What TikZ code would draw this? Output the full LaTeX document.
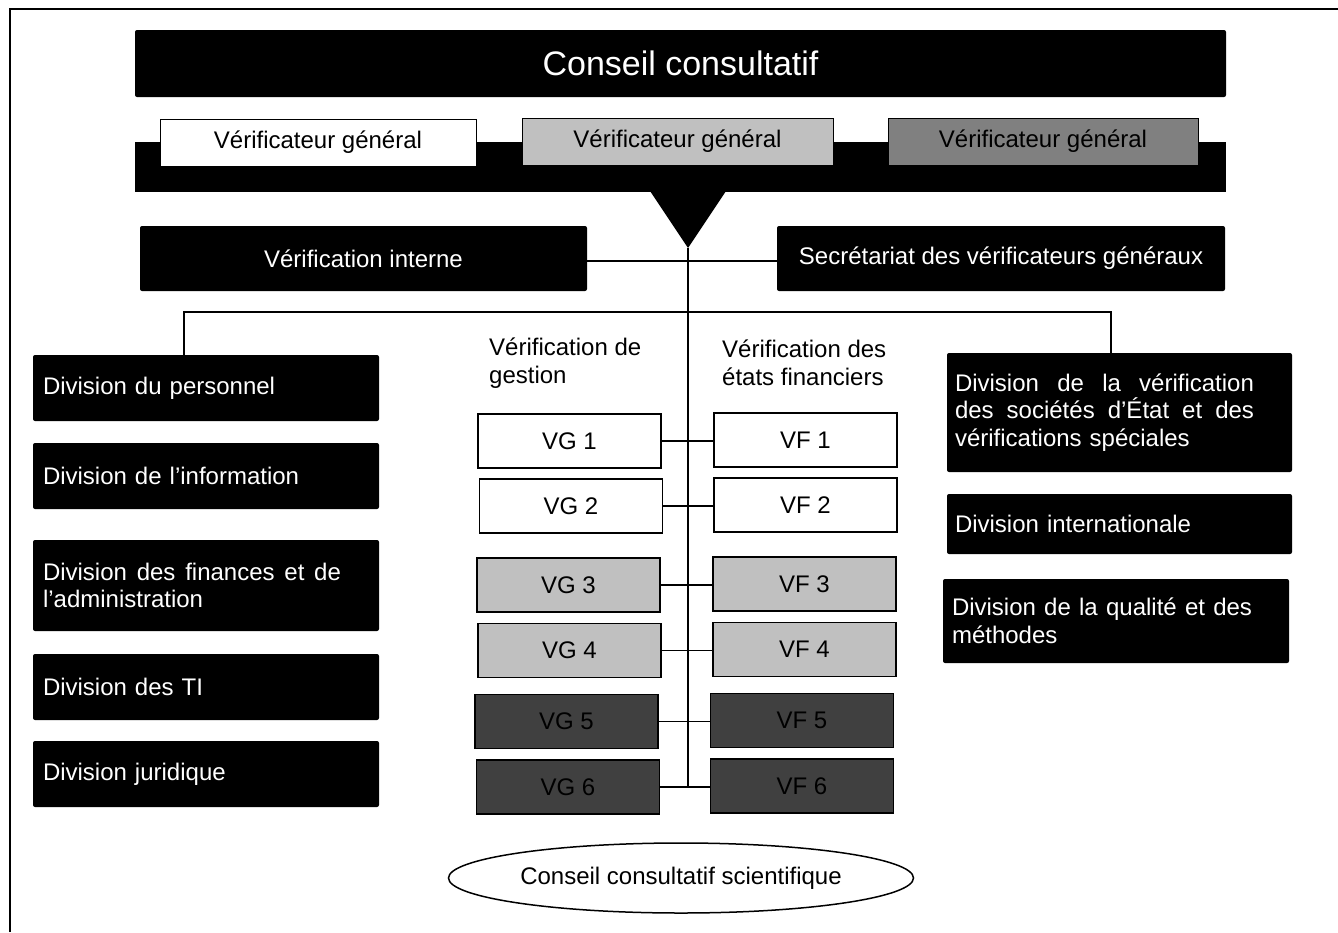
\documentclass[tikz,border=0pt]{standalone}
\usepackage{fontspec}
\setmainfont{Liberation Sans}
\usetikzlibrary{shapes.geometric}
\definecolor{lgray}{HTML}{C0C0C0}
\definecolor{mgray}{HTML}{808080}
\definecolor{dgray}{HTML}{404040}
\newcommand{\jline}[2]{\leavevmode\hbox to #1{#2}}
\begin{document}
\begin{tikzpicture}[x=1pt,y=-1pt,
 txt/.style={font=\fontsize{24}{27.5}\selectfont},
 blk/.style={txt, fill=black, text=white, rounded corners=2pt, inner sep=0pt, anchor=center},
 lblk/.style={blk, align=left},
 topvg/.style={txt, draw=black, line width=1pt, inner sep=0pt, minimum height=47pt},
 vbox/.style={txt, draw=black, line width=1.8pt, inner sep=0pt, minimum width=183pt, minimum height=54pt},
 conn/.style={line width=1.8pt},
]
\useasboundingbox (0,0) rectangle (1338,932);
\draw[line width=2.3pt] (10,932) -- (10,9) -- (1338,9);

% top
\node[blk, minimum width=1091pt, minimum height=67pt, font=\fontsize{34}{40}\selectfont] (cc) at (680.5,63.5) {Conseil consultatif};
\node[blk, rounded corners=0pt, minimum width=1091pt, minimum height=50pt] (band) at (680.5,167) {};
\fill (650,191) -- (726,191) -- (688,248) -- cycle;
\coordinate (tip) at (688,248);
\node[topvg, fill=white, minimum width=316pt] (vg) at (318,142.5) {Vérificateur général};
\node[topvg, fill=lgray, minimum width=311pt] (vgb) at (677.5,141.5) {Vérificateur général};
\node[topvg, fill=mgray, minimum width=310pt] (vgc) at (1043,141.5) {Vérificateur général};

\node[blk, minimum width=447pt, minimum height=65pt] (vi) at (363.5,258.5) {Vérification interne};
\node[blk, minimum width=448pt, minimum height=65pt] (sec) at (1001,258.5) {Secrétariat des vérificateurs généraux};

% left column
\node[lblk, text width=326pt, inner xsep=10pt, minimum height=66pt] (dp) at (206,388) {Division du personnel};
\node[lblk, text width=326pt, inner xsep=10pt, minimum height=66pt] (dinf) at (206,476) {Division de l’information};
\node[lblk, text width=326pt, inner xsep=10pt, minimum height=91pt] (dfin) at (206,585.5) {\jline{298pt}{Division\hfill des\hfill finances\hfill et\hfill de}\\l’administration};
\node[lblk, text width=326pt, inner xsep=10pt, minimum height=66pt] (dti) at (206,687) {Division des TI};
\node[lblk, text width=326pt, inner xsep=10pt, minimum height=66pt] (dj) at (206,774) {Division juridique};

% right column
\node[lblk, text width=329pt, inner xsep=8pt, minimum height=119pt] (dv) at (1119.5,412.5) {\jline{299pt}{Division\hfill de\hfill la\hfill vérification}\\\jline{299pt}{des\hfill sociétés\hfill d’État\hfill et\hfill des}\\vérifications spéciales};
\node[lblk, text width=329pt, inner xsep=8pt, minimum height=60pt] (dint) at (1119.5,524) {Division internationale};
\node[lblk, text width=328pt, inner xsep=9pt, minimum height=84pt] (dq) at (1116,621) {\jline{300pt}{Division\hfill de\hfill la\hfill qualité\hfill et\hfill des}\\méthodes};

% middle labels
\node[txt, align=left, anchor=west, inner sep=0pt] (lg) at (489,363) {Vérification de\\gestion};
\node[txt, align=left, anchor=west, inner sep=0pt] (lf) at (722,363) {Vérification des\\états financiers};

% VG / VF boxes
\node[vbox, fill=white] (vg1) at (569.5,441) {VG 1};
\node[vbox, fill=white] (vf1) at (805.5,440) {VF 1};
\node[vbox, fill=white] (vg2) at (571,506) {VG 2};
\node[vbox, fill=white] (vf2) at (805.5,505) {VF 2};
\node[vbox, fill=lgray] (vg3) at (568.5,585) {VG 3};
\node[vbox, fill=lgray] (vf3) at (804.5,584) {VF 3};
\node[vbox, fill=lgray] (vg4) at (569.5,650.5) {VG 4};
\node[vbox, fill=lgray] (vf4) at (804.5,649.5) {VF 4};
\node[vbox, fill=dgray] (vg5) at (566.5,721.5) {VG 5};
\node[vbox, fill=dgray] (vf5) at (802,720.5) {VF 5};
\node[vbox, fill=dgray] (vg6) at (568,787) {VG 6};
\node[vbox, fill=dgray] (vf6) at (802,786) {VF 6};

% ellipse
\node[ellipse, draw, line width=1.5pt, minimum width=465pt, minimum height=70pt, inner sep=0pt, txt] (ccs) at (681,878) {Conseil consultatif scientifique};

% connectors
\coordinate (bot) at (688,788);
\coordinate (hl) at (184,312);
\coordinate (hr) at (1111,312);
\draw[conn] (tip) -- (bot);
\draw[conn] ([yshift=-2.5pt]vi.east) -- ([yshift=-2.5pt]sec.west);
\draw[conn] (hl |- dp.north) -- (hl) -- (hr) -- (hr |- dv.north);
\foreach \i in {1,...,6}{
  \draw[conn] (vg\i.east) -- (vg\i.east -| vf\i.west);
}
\end{tikzpicture}
\end{document}
